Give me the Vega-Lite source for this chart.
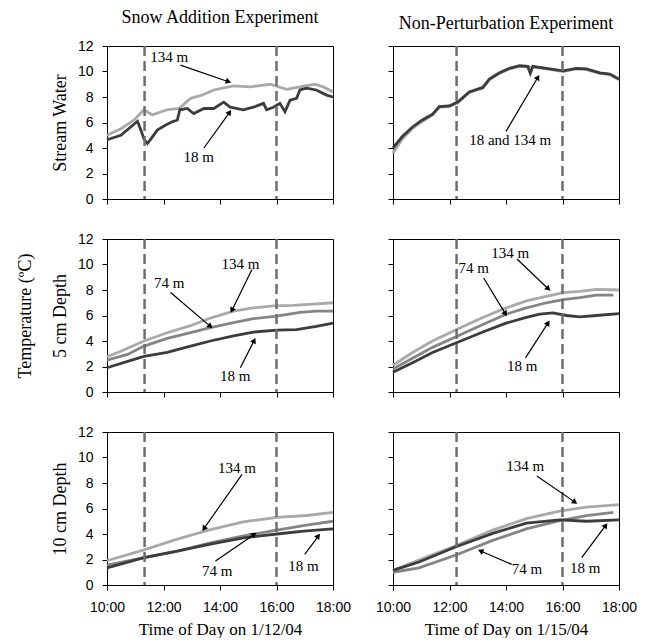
{
  "$schema": "https://vega.github.io/schema/vega-lite/v6.json",
  "background": "white",
  "padding": {"left": 15, "top": 8, "right": 20, "bottom": 0},
  "config": {
    "view": {"stroke": "black", "strokeWidth": 1},
    "axis": {
      "grid": false, "domainColor": "black", "tickColor": "black", "tickSize": 5,
      "labelFont": "Liberation Sans", "labelFontSize": 14, "labelColor": "black", "labelOverlap": false, "labelFlush": false,
      "titleFont": "Liberation Serif", "titleFontWeight": "normal", "titleColor": "black"
    },
    "axisX": {"labelPadding": 10, "titleFontSize": 17, "titlePadding": 7},
    "axisY": {"labelPadding": 9, "titleFontSize": 18, "titlePadding": 8},
    "title": {"font": "Liberation Serif", "fontSize": 18, "fontWeight": "normal", "color": "black", "offset": 12}
  },
  "datasets": {
    "lines": [
      {"panel":"p1","series":"134 m","hour":10.0,"temp":5.0},{"panel":"p1","series":"134 m","hour":10.49,"temp":5.5},{"panel":"p1","series":"134 m","hour":10.96,"temp":6.2},{"panel":"p1","series":"134 m","hour":11.31,"temp":7.0},{"panel":"p1","series":"134 m","hour":11.61,"temp":6.6},{"panel":"p1","series":"134 m","hour":12.13,"temp":7.0},{"panel":"p1","series":"134 m","hour":12.55,"temp":7.1},{"panel":"p1","series":"134 m","hour":12.96,"temp":7.9},{"panel":"p1","series":"134 m","hour":13.31,"temp":8.1},{"panel":"p1","series":"134 m","hour":13.78,"temp":8.55},{"panel":"p1","series":"134 m","hour":14.48,"temp":8.87},{"panel":"p1","series":"134 m","hour":15.07,"temp":8.8},{"panel":"p1","series":"134 m","hour":15.77,"temp":9.0},{"panel":"p1","series":"134 m","hour":16.36,"temp":8.6},{"panel":"p1","series":"134 m","hour":16.83,"temp":8.8},{"panel":"p1","series":"134 m","hour":17.35,"temp":9.0},{"panel":"p1","series":"134 m","hour":17.65,"temp":8.8},{"panel":"p1","series":"134 m","hour":18.0,"temp":8.4},
      {"panel":"p1","series":"18 m","hour":10.0,"temp":4.65},{"panel":"p1","series":"18 m","hour":10.49,"temp":5.0},{"panel":"p1","series":"18 m","hour":11.08,"temp":6.1},{"panel":"p1","series":"18 m","hour":11.2,"temp":5.4},{"panel":"p1","series":"18 m","hour":11.31,"temp":4.7},{"panel":"p1","series":"18 m","hour":11.43,"temp":4.35},{"panel":"p1","series":"18 m","hour":11.55,"temp":4.7},{"panel":"p1","series":"18 m","hour":11.78,"temp":5.4},{"panel":"p1","series":"18 m","hour":12.08,"temp":5.8},{"panel":"p1","series":"18 m","hour":12.31,"temp":6.05},{"panel":"p1","series":"18 m","hour":12.49,"temp":6.2},{"panel":"p1","series":"18 m","hour":12.58,"temp":7.0},{"panel":"p1","series":"18 m","hour":12.84,"temp":7.1},{"panel":"p1","series":"18 m","hour":13.07,"temp":6.7},{"panel":"p1","series":"18 m","hour":13.43,"temp":7.1},{"panel":"p1","series":"18 m","hour":13.78,"temp":7.1},{"panel":"p1","series":"18 m","hour":14.13,"temp":7.6},{"panel":"p1","series":"18 m","hour":14.36,"temp":7.2},{"panel":"p1","series":"18 m","hour":14.83,"temp":7.0},{"panel":"p1","series":"18 m","hour":15.18,"temp":7.2},{"panel":"p1","series":"18 m","hour":15.54,"temp":7.5},{"panel":"p1","series":"18 m","hour":15.65,"temp":7.0},{"panel":"p1","series":"18 m","hour":15.89,"temp":7.2},{"panel":"p1","series":"18 m","hour":16.12,"temp":7.5},{"panel":"p1","series":"18 m","hour":16.3,"temp":6.85},{"panel":"p1","series":"18 m","hour":16.48,"temp":7.75},{"panel":"p1","series":"18 m","hour":16.71,"temp":7.9},{"panel":"p1","series":"18 m","hour":16.83,"temp":8.55},{"panel":"p1","series":"18 m","hour":17.06,"temp":8.7},{"panel":"p1","series":"18 m","hour":17.41,"temp":8.55},{"panel":"p1","series":"18 m","hour":17.77,"temp":8.15},{"panel":"p1","series":"18 m","hour":18.0,"temp":8.0},
      {"panel":"p2","series":"134 m","hour":10.0,"temp":3.6},{"panel":"p2","series":"134 m","hour":10.33,"temp":4.7},{"panel":"p2","series":"134 m","hour":10.69,"temp":5.55},{"panel":"p2","series":"134 m","hour":11.04,"temp":6.1},{"panel":"p2","series":"134 m","hour":11.4,"temp":6.6},{"panel":"p2","series":"134 m","hour":11.64,"temp":7.2},{"panel":"p2","series":"134 m","hour":11.99,"temp":7.25},{"panel":"p2","series":"134 m","hour":12.29,"temp":7.55},{"panel":"p2","series":"134 m","hour":12.7,"temp":8.35},{"panel":"p2","series":"134 m","hour":13.18,"temp":8.7},{"panel":"p2","series":"134 m","hour":13.41,"temp":9.35},{"panel":"p2","series":"134 m","hour":13.77,"temp":9.85},{"panel":"p2","series":"134 m","hour":14.12,"temp":10.2},{"panel":"p2","series":"134 m","hour":14.48,"temp":10.4},{"panel":"p2","series":"134 m","hour":14.95,"temp":10.35},{"panel":"p2","series":"134 m","hour":15.43,"temp":10.2},{"panel":"p2","series":"134 m","hour":16.02,"temp":10.0},{"panel":"p2","series":"134 m","hour":16.49,"temp":10.2},{"panel":"p2","series":"134 m","hour":16.85,"temp":10.15},{"panel":"p2","series":"134 m","hour":17.32,"temp":9.85},{"panel":"p2","series":"134 m","hour":17.68,"temp":9.75},{"panel":"p2","series":"134 m","hour":18.0,"temp":9.35},
      {"panel":"p2","series":"18 m","hour":10.0,"temp":4.0},{"panel":"p2","series":"18 m","hour":10.33,"temp":4.9},{"panel":"p2","series":"18 m","hour":10.69,"temp":5.65},{"panel":"p2","series":"18 m","hour":11.04,"temp":6.2},{"panel":"p2","series":"18 m","hour":11.4,"temp":6.65},{"panel":"p2","series":"18 m","hour":11.64,"temp":7.25},{"panel":"p2","series":"18 m","hour":11.99,"temp":7.3},{"panel":"p2","series":"18 m","hour":12.29,"temp":7.6},{"panel":"p2","series":"18 m","hour":12.7,"temp":8.4},{"panel":"p2","series":"18 m","hour":13.18,"temp":8.75},{"panel":"p2","series":"18 m","hour":13.41,"temp":9.4},{"panel":"p2","series":"18 m","hour":13.77,"temp":9.9},{"panel":"p2","series":"18 m","hour":14.12,"temp":10.25},{"panel":"p2","series":"18 m","hour":14.48,"temp":10.45},{"panel":"p2","series":"18 m","hour":14.77,"temp":10.4},{"panel":"p2","series":"18 m","hour":14.86,"temp":9.85},{"panel":"p2","series":"18 m","hour":14.95,"temp":10.4},{"panel":"p2","series":"18 m","hour":15.43,"temp":10.25},{"panel":"p2","series":"18 m","hour":16.02,"temp":10.05},{"panel":"p2","series":"18 m","hour":16.49,"temp":10.25},{"panel":"p2","series":"18 m","hour":16.85,"temp":10.2},{"panel":"p2","series":"18 m","hour":17.32,"temp":9.9},{"panel":"p2","series":"18 m","hour":17.68,"temp":9.8},{"panel":"p2","series":"18 m","hour":18.0,"temp":9.4},
      {"panel":"p3","series":"134 m","hour":10.0,"temp":2.77},{"panel":"p3","series":"134 m","hour":10.49,"temp":3.2},{"panel":"p3","series":"134 m","hour":11.31,"temp":4.0},{"panel":"p3","series":"134 m","hour":12.13,"temp":4.65},{"panel":"p3","series":"134 m","hour":12.96,"temp":5.2},{"panel":"p3","series":"134 m","hour":13.66,"temp":5.8},{"panel":"p3","series":"134 m","hour":14.48,"temp":6.35},{"panel":"p3","series":"134 m","hour":15.18,"temp":6.6},{"panel":"p3","series":"134 m","hour":15.89,"temp":6.75},{"panel":"p3","series":"134 m","hour":16.59,"temp":6.8},{"panel":"p3","series":"134 m","hour":17.3,"temp":6.9},{"panel":"p3","series":"134 m","hour":18.0,"temp":7.0},
      {"panel":"p3","series":"74 m","hour":10.0,"temp":2.5},{"panel":"p3","series":"74 m","hour":10.73,"temp":2.95},{"panel":"p3","series":"74 m","hour":11.31,"temp":3.6},{"panel":"p3","series":"74 m","hour":12.13,"temp":4.2},{"panel":"p3","series":"74 m","hour":12.96,"temp":4.65},{"panel":"p3","series":"74 m","hour":13.66,"temp":5.05},{"panel":"p3","series":"74 m","hour":14.48,"temp":5.45},{"panel":"p3","series":"74 m","hour":15.18,"temp":5.75},{"panel":"p3","series":"74 m","hour":16.01,"temp":5.95},{"panel":"p3","series":"74 m","hour":16.83,"temp":6.25},{"panel":"p3","series":"74 m","hour":17.41,"temp":6.35},{"panel":"p3","series":"74 m","hour":18.0,"temp":6.35},
      {"panel":"p3","series":"18 m","hour":10.0,"temp":1.9},{"panel":"p3","series":"18 m","hour":10.73,"temp":2.4},{"panel":"p3","series":"18 m","hour":11.31,"temp":2.8},{"panel":"p3","series":"18 m","hour":12.13,"temp":3.1},{"panel":"p3","series":"18 m","hour":12.96,"temp":3.6},{"panel":"p3","series":"18 m","hour":13.66,"temp":4.0},{"panel":"p3","series":"18 m","hour":14.48,"temp":4.4},{"panel":"p3","series":"18 m","hour":15.18,"temp":4.7},{"panel":"p3","series":"18 m","hour":16.01,"temp":4.85},{"panel":"p3","series":"18 m","hour":16.71,"temp":4.9},{"panel":"p3","series":"18 m","hour":17.41,"temp":5.15},{"panel":"p3","series":"18 m","hour":18.0,"temp":5.4},
      {"panel":"p4","series":"134 m","hour":10.0,"temp":2.1},{"panel":"p4","series":"134 m","hour":10.69,"temp":3.1},{"panel":"p4","series":"134 m","hour":11.4,"temp":4.0},{"panel":"p4","series":"134 m","hour":12.29,"temp":4.95},{"panel":"p4","series":"134 m","hour":13.18,"temp":5.85},{"panel":"p4","series":"134 m","hour":13.89,"temp":6.5},{"panel":"p4","series":"134 m","hour":14.72,"temp":7.15},{"panel":"p4","series":"134 m","hour":15.43,"temp":7.5},{"panel":"p4","series":"134 m","hour":16.02,"temp":7.8},{"panel":"p4","series":"134 m","hour":16.61,"temp":7.9},{"panel":"p4","series":"134 m","hour":17.2,"temp":8.05},{"panel":"p4","series":"134 m","hour":18.0,"temp":8.0},
      {"panel":"p4","series":"74 m","hour":10.0,"temp":1.8},{"panel":"p4","series":"74 m","hour":10.69,"temp":2.65},{"panel":"p4","series":"74 m","hour":11.4,"temp":3.5},{"panel":"p4","series":"74 m","hour":12.29,"temp":4.4},{"panel":"p4","series":"74 m","hour":13.18,"temp":5.3},{"panel":"p4","series":"74 m","hour":14.0,"temp":6.1},{"panel":"p4","series":"74 m","hour":14.72,"temp":6.6},{"panel":"p4","series":"74 m","hour":15.43,"temp":7.0},{"panel":"p4","series":"74 m","hour":16.02,"temp":7.25},{"panel":"p4","series":"74 m","hour":16.61,"temp":7.4},{"panel":"p4","series":"74 m","hour":17.2,"temp":7.6},{"panel":"p4","series":"74 m","hour":17.8,"temp":7.6},
      {"panel":"p4","series":"18 m","hour":10.0,"temp":1.55},{"panel":"p4","series":"18 m","hour":10.69,"temp":2.3},{"panel":"p4","series":"18 m","hour":11.4,"temp":3.1},{"panel":"p4","series":"18 m","hour":12.29,"temp":3.9},{"panel":"p4","series":"18 m","hour":13.18,"temp":4.7},{"panel":"p4","series":"18 m","hour":14.0,"temp":5.4},{"panel":"p4","series":"18 m","hour":14.72,"temp":5.85},{"panel":"p4","series":"18 m","hour":15.19,"temp":6.1},{"panel":"p4","series":"18 m","hour":15.66,"temp":6.2},{"panel":"p4","series":"18 m","hour":16.14,"temp":6.0},{"panel":"p4","series":"18 m","hour":16.61,"temp":5.9},{"panel":"p4","series":"18 m","hour":17.2,"temp":6.0},{"panel":"p4","series":"18 m","hour":18.0,"temp":6.15},
      {"panel":"p5","series":"134 m","hour":10.0,"temp":1.9},{"panel":"p5","series":"134 m","hour":11.31,"temp":2.75},{"panel":"p5","series":"134 m","hour":12.49,"temp":3.6},{"panel":"p5","series":"134 m","hour":13.66,"temp":4.35},{"panel":"p5","series":"134 m","hour":14.83,"temp":4.95},{"panel":"p5","series":"134 m","hour":16.01,"temp":5.3},{"panel":"p5","series":"134 m","hour":17.06,"temp":5.45},{"panel":"p5","series":"134 m","hour":18.0,"temp":5.7},
      {"panel":"p5","series":"74 m","hour":10.0,"temp":1.55},{"panel":"p5","series":"74 m","hour":11.31,"temp":2.15},{"panel":"p5","series":"74 m","hour":12.49,"temp":2.65},{"panel":"p5","series":"74 m","hour":13.66,"temp":3.3},{"panel":"p5","series":"74 m","hour":14.83,"temp":3.85},{"panel":"p5","series":"74 m","hour":16.01,"temp":4.3},{"panel":"p5","series":"74 m","hour":17.06,"temp":4.7},{"panel":"p5","series":"74 m","hour":18.0,"temp":5.0},
      {"panel":"p5","series":"18 m","hour":10.0,"temp":1.35},{"panel":"p5","series":"18 m","hour":11.31,"temp":2.15},{"panel":"p5","series":"18 m","hour":12.49,"temp":2.65},{"panel":"p5","series":"18 m","hour":13.66,"temp":3.2},{"panel":"p5","series":"18 m","hour":14.83,"temp":3.7},{"panel":"p5","series":"18 m","hour":16.01,"temp":4.0},{"panel":"p5","series":"18 m","hour":17.06,"temp":4.25},{"panel":"p5","series":"18 m","hour":18.0,"temp":4.4},
      {"panel":"p6","series":"134 m","hour":10.0,"temp":1.15},{"panel":"p6","series":"134 m","hour":10.92,"temp":1.95},{"panel":"p6","series":"134 m","hour":12.23,"temp":3.1},{"panel":"p6","series":"134 m","hour":13.53,"temp":4.3},{"panel":"p6","series":"134 m","hour":14.72,"temp":5.2},{"panel":"p6","series":"134 m","hour":15.9,"temp":5.8},{"panel":"p6","series":"134 m","hour":16.85,"temp":6.1},{"panel":"p6","series":"134 m","hour":18.0,"temp":6.3},
      {"panel":"p6","series":"74 m","hour":10.0,"temp":1.0},{"panel":"p6","series":"74 m","hour":10.92,"temp":1.35},{"panel":"p6","series":"74 m","hour":12.23,"temp":2.35},{"panel":"p6","series":"74 m","hour":13.53,"temp":3.5},{"panel":"p6","series":"74 m","hour":14.72,"temp":4.4},{"panel":"p6","series":"74 m","hour":15.9,"temp":5.05},{"panel":"p6","series":"74 m","hour":16.85,"temp":5.45},{"panel":"p6","series":"74 m","hour":17.8,"temp":5.7},
      {"panel":"p6","series":"18 m","hour":10.0,"temp":1.15},{"panel":"p6","series":"18 m","hour":10.92,"temp":1.8},{"panel":"p6","series":"18 m","hour":12.23,"temp":3.0},{"panel":"p6","series":"18 m","hour":13.53,"temp":4.05},{"panel":"p6","series":"18 m","hour":14.72,"temp":4.85},{"panel":"p6","series":"18 m","hour":15.9,"temp":5.1},{"panel":"p6","series":"18 m","hour":16.85,"temp":5.0},{"panel":"p6","series":"18 m","hour":18.0,"temp":5.1}
    ],
    "dashes": [
      {"panel":"p1","hour":11.33},{"panel":"p1","hour":16.0},
      {"panel":"p3","hour":11.33},{"panel":"p3","hour":16.0},
      {"panel":"p5","hour":11.33},{"panel":"p5","hour":16.0},
      {"panel":"p2","hour":12.25},{"panel":"p2","hour":16.0},
      {"panel":"p4","hour":12.25},{"panel":"p4","hour":16.0},
      {"panel":"p6","hour":12.25},{"panel":"p6","hour":16.0}
    ],
    "labels": [
      {"panel":"p1","label":"134 m","hour":12.2,"temp":11.15},
      {"panel":"p1","label":"18 m","hour":13.25,"temp":3.3},
      {"panel":"p2","label":"18 and 134 m","hour":14.15,"temp":4.65},
      {"panel":"p3","label":"134 m","hour":14.72,"temp":10.06},
      {"panel":"p3","label":"74 m","hour":12.2,"temp":8.55},
      {"panel":"p3","label":"18 m","hour":14.54,"temp":1.25},
      {"panel":"p4","label":"134 m","hour":14.15,"temp":10.9},
      {"panel":"p4","label":"74 m","hour":12.86,"temp":9.73},
      {"panel":"p4","label":"18 m","hour":14.57,"temp":2.03},
      {"panel":"p5","label":"134 m","hour":14.6,"temp":9.2},
      {"panel":"p5","label":"74 m","hour":13.9,"temp":1.1},
      {"panel":"p5","label":"18 m","hour":16.95,"temp":1.5},
      {"panel":"p6","label":"134 m","hour":14.68,"temp":9.33},
      {"panel":"p6","label":"74 m","hour":14.74,"temp":1.23},
      {"panel":"p6","label":"18 m","hour":16.8,"temp":1.36}
    ],
    "arrows": [
      {"panel":"p1","h1":12.6,"t1":10.5,"h2":14.3,"t2":9.2},
      {"panel":"p1","h1":13.43,"t1":4.0,"h2":14.34,"t2":6.8},
      {"panel":"p2","h1":14.0,"t1":5.3,"h2":15.13,"t2":9.55},
      {"panel":"p3","h1":15.13,"t1":9.6,"h2":14.42,"t2":6.4},
      {"panel":"p3","h1":12.25,"t1":7.8,"h2":13.66,"t2":5.15},
      {"panel":"p3","h1":14.72,"t1":1.9,"h2":15.21,"t2":4.05},
      {"panel":"p4","h1":14.39,"t1":10.43,"h2":15.5,"t2":8.08},
      {"panel":"p4","h1":13.21,"t1":8.94,"h2":13.98,"t2":6.13},
      {"panel":"p4","h1":14.69,"t1":2.68,"h2":15.49,"t2":5.42},
      {"panel":"p5","h1":14.78,"t1":8.68,"h2":13.43,"t2":4.42},
      {"panel":"p5","h1":13.84,"t1":1.88,"h2":15.21,"t2":3.97},
      {"panel":"p5","h1":17.0,"t1":2.4,"h2":17.48,"t2":3.84},
      {"panel":"p6","h1":15.09,"t1":8.55,"h2":16.44,"t2":6.5},
      {"panel":"p6","h1":14.2,"t1":1.62,"h2":13.1,"t2":2.67},
      {"panel":"p6","h1":16.68,"t1":2.14,"h2":17.53,"t2":4.68}
    ]
  },
  "columns": 2,
  "spacing": {"row": 40, "column": 60},
  "bounds": "flush",
  "concat": [
      {"width":226,"height":153,"title":"Snow Addition Experiment",
       "layer":[
        {"data":{"name":"lines"},"transform":[{"filter":"datum.panel=='p1'"}],"mark":{"type":"line","strokeWidth":2.8},
         "encoding":{"x":{"field":"hour","type":"quantitative","scale":{"domain":[10,18]},"axis":{"values":[10,11,12,13,14,15,16,17,18],"labels":false,"title":null}},
                     "y":{"field":"temp","type":"quantitative","scale":{"domain":[0,12]},"axis":{"values":[0,2,4,6,8,10,12],"tickCount":7,"labelOverlap":false,"title":"Stream Water"}},
                     "color":{"field":"series","type":"nominal","scale":{"domain":["134 m","74 m","18 m"],"range":["#a9a9a9","#858585","#3c3c3c"]},"legend":null}}},
        {"data":{"name":"dashes"},"transform":[{"filter":"datum.panel=='p1'"}],"mark":{"type":"rule","strokeDash":[10,5],"strokeWidth":2.5,"color":"#6e6e6e"},"encoding":{"x":{"field":"hour","type":"quantitative"}}},
        {"data":{"name":"arrows"},"transform":[{"filter":"datum.panel=='p1'"}],"mark":{"type":"rule","color":"black","strokeWidth":1.2},"encoding":{"x":{"field":"h1","type":"quantitative"},"y":{"field":"t1","type":"quantitative"},"x2":{"field":"h2"},"y2":{"field":"t2"}}},
        {"data":{"name":"arrows"},"transform":[{"filter":"datum.panel=='p1'"},{"calculate":"atan2((datum.h2-datum.h1)*28.3,(datum.t2-datum.t1)*12.8)*180/PI","as":"ang"}],"mark":{"type":"point","shape":"triangle-up","filled":true,"color":"black","opacity":1,"size":40},"encoding":{"x":{"field":"h2","type":"quantitative"},"y":{"field":"t2","type":"quantitative"},"angle":{"field":"ang","type":"quantitative","scale":null}}},
        {"data":{"name":"labels"},"transform":[{"filter":"datum.panel=='p1'"}],"mark":{"type":"text","font":"Liberation Serif","fontSize":15,"color":"black"},"encoding":{"x":{"field":"hour","type":"quantitative"},"y":{"field":"temp","type":"quantitative"},"text":{"field":"label"}}}
       ]},
      {"width":226,"height":153,"title":"Non-Perturbation Experiment",
       "layer":[
        {"data":{"name":"lines"},"transform":[{"filter":"datum.panel=='p2'"}],"mark":{"type":"line","strokeWidth":2.8},
         "encoding":{"x":{"field":"hour","type":"quantitative","scale":{"domain":[10,18]},"axis":{"values":[10,11,12,13,14,15,16,17,18],"labels":false,"title":null}},
                     "y":{"field":"temp","type":"quantitative","scale":{"domain":[0,12]},"axis":{"values":[0,2,4,6,8,10,12],"tickCount":7,"labels":false,"title":null}},
                     "color":{"field":"series","type":"nominal","scale":{"domain":["134 m","74 m","18 m"],"range":["#7a7a7a","#858585","#262626"]},"legend":null}}},
        {"data":{"name":"dashes"},"transform":[{"filter":"datum.panel=='p2'"}],"mark":{"type":"rule","strokeDash":[10,5],"strokeWidth":2.5,"color":"#6e6e6e"},"encoding":{"x":{"field":"hour","type":"quantitative"}}},
        {"data":{"name":"arrows"},"transform":[{"filter":"datum.panel=='p2'"}],"mark":{"type":"rule","color":"black","strokeWidth":1.2},"encoding":{"x":{"field":"h1","type":"quantitative"},"y":{"field":"t1","type":"quantitative"},"x2":{"field":"h2"},"y2":{"field":"t2"}}},
        {"data":{"name":"arrows"},"transform":[{"filter":"datum.panel=='p2'"},{"calculate":"atan2((datum.h2-datum.h1)*28.3,(datum.t2-datum.t1)*12.8)*180/PI","as":"ang"}],"mark":{"type":"point","shape":"triangle-up","filled":true,"color":"black","opacity":1,"size":40},"encoding":{"x":{"field":"h2","type":"quantitative"},"y":{"field":"t2","type":"quantitative"},"angle":{"field":"ang","type":"quantitative","scale":null}}},
        {"data":{"name":"labels"},"transform":[{"filter":"datum.panel=='p2'"}],"mark":{"type":"text","font":"Liberation Serif","fontSize":15,"color":"black"},"encoding":{"x":{"field":"hour","type":"quantitative"},"y":{"field":"temp","type":"quantitative"},"text":{"field":"label"}}}
       ]},
      {"width":226,"height":153,
       "layer":[
        {"data":{"name":"lines"},"transform":[{"filter":"datum.panel=='p3'"}],"mark":{"type":"line","strokeWidth":2.8},
         "encoding":{"x":{"field":"hour","type":"quantitative","scale":{"domain":[10,18]},"axis":{"values":[10,11,12,13,14,15,16,17,18],"labels":false,"title":null}},
                     "y":{"field":"temp","type":"quantitative","scale":{"domain":[0,12]},"axis":{"values":[0,2,4,6,8,10,12],"tickCount":7,"labelOverlap":false,"title":["Temperature (ºC)","5 cm Depth"],"titleLineHeight":35}},
                     "color":{"field":"series","type":"nominal","scale":{"domain":["134 m","74 m","18 m"],"range":["#a9a9a9","#858585","#3c3c3c"]},"legend":null}}},
        {"data":{"name":"dashes"},"transform":[{"filter":"datum.panel=='p3'"}],"mark":{"type":"rule","strokeDash":[10,5],"strokeWidth":2.5,"color":"#6e6e6e"},"encoding":{"x":{"field":"hour","type":"quantitative"}}},
        {"data":{"name":"arrows"},"transform":[{"filter":"datum.panel=='p3'"}],"mark":{"type":"rule","color":"black","strokeWidth":1.2},"encoding":{"x":{"field":"h1","type":"quantitative"},"y":{"field":"t1","type":"quantitative"},"x2":{"field":"h2"},"y2":{"field":"t2"}}},
        {"data":{"name":"arrows"},"transform":[{"filter":"datum.panel=='p3'"},{"calculate":"atan2((datum.h2-datum.h1)*28.3,(datum.t2-datum.t1)*12.8)*180/PI","as":"ang"}],"mark":{"type":"point","shape":"triangle-up","filled":true,"color":"black","opacity":1,"size":40},"encoding":{"x":{"field":"h2","type":"quantitative"},"y":{"field":"t2","type":"quantitative"},"angle":{"field":"ang","type":"quantitative","scale":null}}},
        {"data":{"name":"labels"},"transform":[{"filter":"datum.panel=='p3'"}],"mark":{"type":"text","font":"Liberation Serif","fontSize":15,"color":"black"},"encoding":{"x":{"field":"hour","type":"quantitative"},"y":{"field":"temp","type":"quantitative"},"text":{"field":"label"}}}
       ]},
      {"width":226,"height":153,
       "layer":[
        {"data":{"name":"lines"},"transform":[{"filter":"datum.panel=='p4'"}],"mark":{"type":"line","strokeWidth":2.8},
         "encoding":{"x":{"field":"hour","type":"quantitative","scale":{"domain":[10,18]},"axis":{"values":[10,11,12,13,14,15,16,17,18],"labels":false,"title":null}},
                     "y":{"field":"temp","type":"quantitative","scale":{"domain":[0,12]},"axis":{"values":[0,2,4,6,8,10,12],"tickCount":7,"labels":false,"title":null}},
                     "color":{"field":"series","type":"nominal","scale":{"domain":["134 m","74 m","18 m"],"range":["#a9a9a9","#858585","#3c3c3c"]},"legend":null}}},
        {"data":{"name":"dashes"},"transform":[{"filter":"datum.panel=='p4'"}],"mark":{"type":"rule","strokeDash":[10,5],"strokeWidth":2.5,"color":"#6e6e6e"},"encoding":{"x":{"field":"hour","type":"quantitative"}}},
        {"data":{"name":"arrows"},"transform":[{"filter":"datum.panel=='p4'"}],"mark":{"type":"rule","color":"black","strokeWidth":1.2},"encoding":{"x":{"field":"h1","type":"quantitative"},"y":{"field":"t1","type":"quantitative"},"x2":{"field":"h2"},"y2":{"field":"t2"}}},
        {"data":{"name":"arrows"},"transform":[{"filter":"datum.panel=='p4'"},{"calculate":"atan2((datum.h2-datum.h1)*28.3,(datum.t2-datum.t1)*12.8)*180/PI","as":"ang"}],"mark":{"type":"point","shape":"triangle-up","filled":true,"color":"black","opacity":1,"size":40},"encoding":{"x":{"field":"h2","type":"quantitative"},"y":{"field":"t2","type":"quantitative"},"angle":{"field":"ang","type":"quantitative","scale":null}}},
        {"data":{"name":"labels"},"transform":[{"filter":"datum.panel=='p4'"}],"mark":{"type":"text","font":"Liberation Serif","fontSize":15,"color":"black"},"encoding":{"x":{"field":"hour","type":"quantitative"},"y":{"field":"temp","type":"quantitative"},"text":{"field":"label"}}}
       ]},
      {"width":226,"height":153,
       "layer":[
        {"data":{"name":"lines"},"transform":[{"filter":"datum.panel=='p5'"}],"mark":{"type":"line","strokeWidth":2.8},
         "encoding":{"x":{"field":"hour","type":"quantitative","scale":{"domain":[10,18]},"axis":{"values":[10,11,12,13,14,15,16,17,18],"labelExpr":"datum.value % 2 == 0 ? datum.value + ':00' : ''","title":"Time of Day on 1/12/04"}},
                     "y":{"field":"temp","type":"quantitative","scale":{"domain":[0,12]},"axis":{"values":[0,2,4,6,8,10,12],"tickCount":7,"labelOverlap":false,"title":"10 cm Depth"}},
                     "color":{"field":"series","type":"nominal","scale":{"domain":["134 m","74 m","18 m"],"range":["#a9a9a9","#858585","#3c3c3c"]},"legend":null}}},
        {"data":{"name":"dashes"},"transform":[{"filter":"datum.panel=='p5'"}],"mark":{"type":"rule","strokeDash":[10,5],"strokeWidth":2.5,"color":"#6e6e6e"},"encoding":{"x":{"field":"hour","type":"quantitative"}}},
        {"data":{"name":"arrows"},"transform":[{"filter":"datum.panel=='p5'"}],"mark":{"type":"rule","color":"black","strokeWidth":1.2},"encoding":{"x":{"field":"h1","type":"quantitative"},"y":{"field":"t1","type":"quantitative"},"x2":{"field":"h2"},"y2":{"field":"t2"}}},
        {"data":{"name":"arrows"},"transform":[{"filter":"datum.panel=='p5'"},{"calculate":"atan2((datum.h2-datum.h1)*28.3,(datum.t2-datum.t1)*12.8)*180/PI","as":"ang"}],"mark":{"type":"point","shape":"triangle-up","filled":true,"color":"black","opacity":1,"size":40},"encoding":{"x":{"field":"h2","type":"quantitative"},"y":{"field":"t2","type":"quantitative"},"angle":{"field":"ang","type":"quantitative","scale":null}}},
        {"data":{"name":"labels"},"transform":[{"filter":"datum.panel=='p5'"}],"mark":{"type":"text","font":"Liberation Serif","fontSize":15,"color":"black"},"encoding":{"x":{"field":"hour","type":"quantitative"},"y":{"field":"temp","type":"quantitative"},"text":{"field":"label"}}}
       ]},
      {"width":226,"height":153,
       "layer":[
        {"data":{"name":"lines"},"transform":[{"filter":"datum.panel=='p6'"}],"mark":{"type":"line","strokeWidth":2.8},
         "encoding":{"x":{"field":"hour","type":"quantitative","scale":{"domain":[10,18]},"axis":{"values":[10,11,12,13,14,15,16,17,18],"labelExpr":"datum.value % 2 == 0 ? datum.value + ':00' : ''","title":"Time of Day on 1/15/04"}},
                     "y":{"field":"temp","type":"quantitative","scale":{"domain":[0,12]},"axis":{"values":[0,2,4,6,8,10,12],"tickCount":7,"labels":false,"title":null}},
                     "color":{"field":"series","type":"nominal","scale":{"domain":["134 m","74 m","18 m"],"range":["#a9a9a9","#858585","#3c3c3c"]},"legend":null}}},
        {"data":{"name":"dashes"},"transform":[{"filter":"datum.panel=='p6'"}],"mark":{"type":"rule","strokeDash":[10,5],"strokeWidth":2.5,"color":"#6e6e6e"},"encoding":{"x":{"field":"hour","type":"quantitative"}}},
        {"data":{"name":"arrows"},"transform":[{"filter":"datum.panel=='p6'"}],"mark":{"type":"rule","color":"black","strokeWidth":1.2},"encoding":{"x":{"field":"h1","type":"quantitative"},"y":{"field":"t1","type":"quantitative"},"x2":{"field":"h2"},"y2":{"field":"t2"}}},
        {"data":{"name":"arrows"},"transform":[{"filter":"datum.panel=='p6'"},{"calculate":"atan2((datum.h2-datum.h1)*28.3,(datum.t2-datum.t1)*12.8)*180/PI","as":"ang"}],"mark":{"type":"point","shape":"triangle-up","filled":true,"color":"black","opacity":1,"size":40},"encoding":{"x":{"field":"h2","type":"quantitative"},"y":{"field":"t2","type":"quantitative"},"angle":{"field":"ang","type":"quantitative","scale":null}}},
        {"data":{"name":"labels"},"transform":[{"filter":"datum.panel=='p6'"}],"mark":{"type":"text","font":"Liberation Serif","fontSize":15,"color":"black"},"encoding":{"x":{"field":"hour","type":"quantitative"},"y":{"field":"temp","type":"quantitative"},"text":{"field":"label"}}}
       ]}
  ]
}
